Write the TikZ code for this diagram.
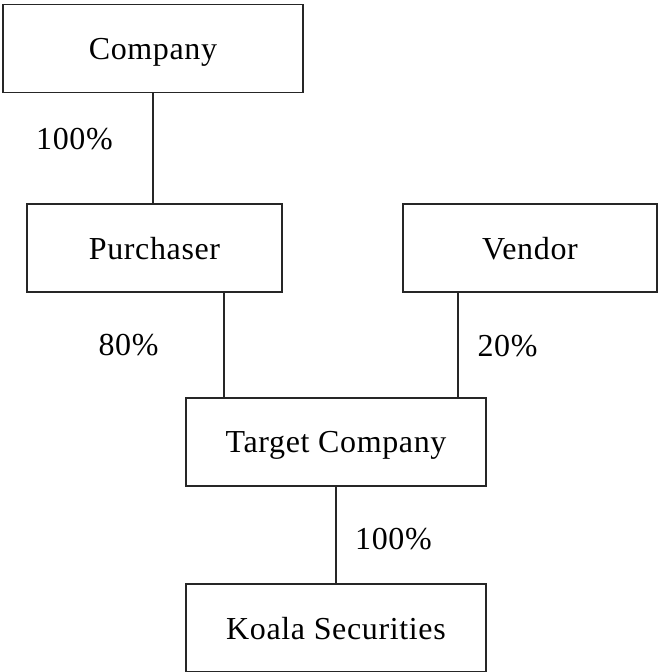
\documentclass[tikz,border=0pt]{standalone}
\usepackage{fontspec}
\setmainfont{Liberation Serif}[LetterSpace=2]

\tikzstyle{box} = [draw, rectangle, inner sep=0mm,
                   minimum height=44pt, text depth=0pt]
\tikzstyle{pct} = [inner sep=0mm]
\def\cL{black!85}

\begin{document}
\begin{tikzpicture}[x=0.5pt,y=-0.5pt,line width=0.7pt,
                    font=\fontsize{16}{19}\selectfont]

\useasboundingbox (0,0) rectangle (658,672);

\node[box,\cL,text=black,minimum width=150pt]
     at (153,48.5)
     (comp) {Company};
\node[box,\cL,text=black,minimum width=127.5pt]
     at (154.5,248)
     (purch) {Purchaser};
\node[box,\cL,text=black,minimum width=127pt]
     at (530,248)
     (vend) {Vendor};
\node[box,\cL,text=black,minimum width=150pt]
     at (336,442)
     (targ) {Target Company};
\node[box,\cL,text=black,minimum width=150pt]
     at (336,628)
     (koala) {Koala Securities};

% holdings
\draw[\cL] (comp.south) -- (comp.south |- purch.north);
\draw[\cL] ([xshift=-56pt]targ.north)
     -- ([xshift=-56pt]targ.north |- purch.south);
\draw[\cL] ([xshift=61pt]targ.north)
     -- ([xshift=61pt]targ.north |- vend.south);
\draw[\cL] (targ.south) -- (koala.north);

\node[pct] at (74.5,139) (pcomp) {100\%};
\node[pct] at (128.5,345) (ppurch) {80\%};
\node[pct] at (507.5,346) (pvend) {20\%};
\node[pct] at (393.5,539) (ptarg) {100\%};

\end{tikzpicture}
\end{document}
